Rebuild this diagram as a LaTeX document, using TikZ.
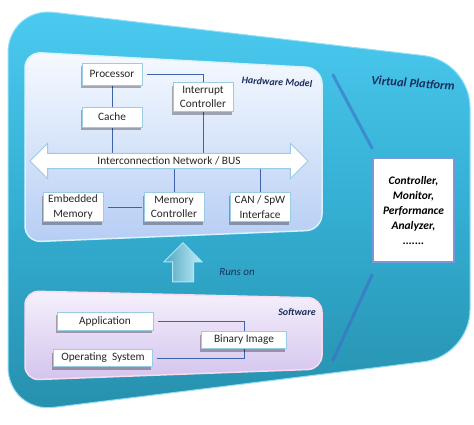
\documentclass[tikz,border=0pt]{standalone}
\usepackage{fontspec}
\setmainfont{Carlito}
\usetikzlibrary{shapes.arrows,shadows,calc}
\pgfdeclarelayer{back}
\pgfdeclarelayer{mid}
\pgfsetlayers{back,mid,main}
\definecolor{outtop}{HTML}{4CCAF0}
\definecolor{outmid}{HTML}{34AED2}
\definecolor{outbot}{HTML}{2690AD}
\definecolor{hwtop}{HTML}{F6FAFF}
\definecolor{hwbot}{HTML}{B6CDF4}
\definecolor{swtop}{HTML}{F5F0FC}
\definecolor{swbot}{HTML}{D4C4EE}
\definecolor{boxline}{HTML}{9CCBE6}
\definecolor{conn}{HTML}{3F63A8}
\definecolor{navy}{HTML}{1B2F5C}
\definecolor{diag}{HTML}{3D6CC8}
\tikzset{
  box/.style={draw=boxline, line width=1pt, fill=white,
    drop shadow={shadow xshift=-1.5pt, shadow yshift=-3pt, opacity=0.3, fill=black},
    font=\fontsize{11.3}{14.5}\selectfont, text=black!85, align=center,
    minimum width=60pt, inner sep=1pt},
  link/.style={draw=conn, line width=1pt},
  tag/.style={font=\fontsize{10}{11}\selectfont\bfseries\itshape, text=navy},
  diagline/.style={draw=diag, line width=3pt, opacity=0.6, line cap=round},
}
\begin{document}
\begin{tikzpicture}[x=1pt,y=-1pt]
\useasboundingbox (0,0) rectangle (474,424);
% outer platform
\begin{pgfonlayer}{back}
\path[top color=outtop, bottom color=outbot, middle color=outmid, draw=outtop!60!white, line width=1pt, rounded corners=46pt]
  (8,200) -- (8,7) -- (470,61) -- (470,356) -- (8,413) -- cycle;
% hardware panel
\path[top color=hwtop, bottom color=hwbot, draw=white!85!cyan, line width=1.5pt, rounded corners=16pt]
  (25,150) -- (25,52) -- (322,68) -- (322,230) -- (25,242) -- cycle;
% software panel
\path[top color=swtop, bottom color=swbot, draw=white!85!magenta, line width=1.5pt, rounded corners=14pt]
  (25,330) -- (25,291) -- (322,298) -- (322,369) -- (25,380) -- cycle;
\end{pgfonlayer}

% labels
\node[tag, rotate=-3] (hwlabel) at (277,82) {Hardware Model};
\node[tag] (swlabel) at (297,312) {Software};
\node[font=\fontsize{12.5}{14}\selectfont\bfseries\itshape, text=navy, rotate=-4] (vplabel) at (413,83) {Virtual Platform};
\node[font=\fontsize{11}{12}\selectfont\itshape, text=navy] (runs) at (237,272) {Runs on};

% hardware nodes
\node[box, minimum height=22pt] (proc) at (112,74) {Processor};
\node[box, minimum height=20pt] (cache) at (112,117) {Cache};
\node[box, minimum height=29pt] (intc) at (203,97) {Interrupt\\Controller};
\node[double arrow, double arrow head extend=10pt, minimum height=278pt, inner ysep=3pt,
  draw=boxline, line width=1pt, fill=white, font=\fontsize{11.3}{13}\selectfont, text=black!85] (bus) at (169,161) {Interconnection Network / BUS};
\node[box, minimum height=29pt] (emb) at (73,207) {Embedded\\Memory};
\node[box, minimum height=29pt] (memc) at (174,207) {Memory\\Controller};
\node[box, minimum height=29pt] (can) at (260,207) {CAN / SpW\\Interface};

% runs-on arrow
\node[single arrow, rotate=90, single arrow head extend=8.5pt, minimum height=39pt,
  inner xsep=0pt, inner ysep=10pt, left color=outbot!80!white, right color=outtop!35!white,
  draw=white!70!cyan, line width=1pt] (up) at (183,267.5) {};

% software nodes
\node[box, minimum width=96pt, minimum height=18pt] (app) at (105,321) {Application};
\node[box, minimum width=99pt, minimum height=17pt] (os) at (103,358) {Operating\ \ System};
\node[box, minimum width=85pt, minimum height=17pt] (bin) at (244,340) {Binary Image};

% right box
\node[draw=diag!70!white, line width=2pt, fill=white, minimum width=81pt, minimum height=104pt,
  align=center, font=\fontsize{11.5}{15}\selectfont\bfseries\itshape, text=black] (vp) at (413.5,210)
  {Controller,\\Monitor,\\Performance\\Analyzer,\\.......};

% diagonal separators
\coordinate (d1a) at (333,75);
\coordinate (d1b) at (372,148);
\coordinate (d2a) at (372,275);
\coordinate (d2b) at (333,360);
\begin{pgfonlayer}{mid}
\draw[diagline] (d1a) -- (d1b);
\draw[diagline] (d2a) -- (d2b);
% connectors
\draw[link] (proc) -- (cache);
\draw[link] (cache) -- (cache |- bus.center);
\draw[link, shorten <=4pt] (proc.east) -| (intc.north);
\draw[link] (intc) -- (intc |- bus.center);
\draw[link] (bus.center -| memc) -- (memc);
\draw[link] (bus.center -| can) -- (can);
\draw[link, shorten <=4pt, shorten >=2pt] (emb.east) -- (memc.west);
\draw[link, shorten <=4pt] (app.east) -| (bin.center);
\draw[link, shorten <=4pt] (os.east) -| (bin.center);
\end{pgfonlayer}
\end{tikzpicture}
\end{document}
